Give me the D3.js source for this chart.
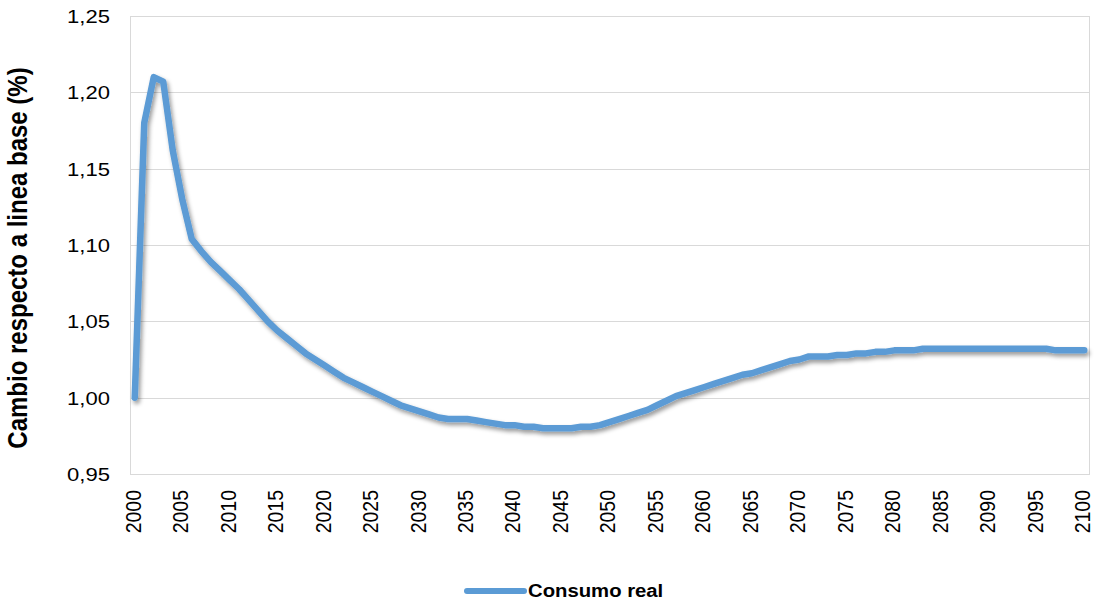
<!DOCTYPE html>
<html>
<head>
<meta charset="utf-8">
<script src="https://cdn.jsdelivr.net/npm/d3@7"></script>
<style>
  html, body { margin: 0; padding: 0; background: #fff; }
  svg { display: block; }
  text { font-family: "Liberation Sans", Arial, sans-serif; fill: #000; }
</style>
</head>
<body>
<svg id="chart" width="1098" height="603"></svg>
<script>
// Years on the category axis
const years = d3.range(2000, 2101);

// Real consumption relative to the baseline, one value per year 2000-2100
const consumoReal = [
  1.000, 1.180, 1.210, 1.207, 1.162, 1.130, 1.104, 1.096, 1.089, 1.083,
  1.077, 1.071, 1.064, 1.057, 1.050, 1.044, 1.039, 1.034, 1.029, 1.025,
  1.021, 1.017, 1.013, 1.010, 1.007, 1.004, 1.001, 0.998, 0.995, 0.993,
  0.991, 0.989, 0.987, 0.986, 0.986, 0.986, 0.985, 0.984, 0.983, 0.982,
  0.982, 0.981, 0.981, 0.980, 0.980, 0.980, 0.980, 0.981, 0.981, 0.982,
  0.984, 0.986, 0.988, 0.990, 0.992, 0.995, 0.998, 1.001, 1.003, 1.005,
  1.007, 1.009, 1.011, 1.013, 1.015, 1.016, 1.018, 1.020, 1.022, 1.024,
  1.025, 1.027, 1.027, 1.027, 1.028, 1.028, 1.029, 1.029, 1.030, 1.030,
  1.031, 1.031, 1.031, 1.032, 1.032, 1.032, 1.032, 1.032, 1.032, 1.032,
  1.032, 1.032, 1.032, 1.032, 1.032, 1.032, 1.032, 1.031, 1.031, 1.031,
  1.031
];

// Axis ticks
const yTicks = [0.95, 1.00, 1.05, 1.10, 1.15, 1.20, 1.25];
const xTickYears = years.filter(y => y % 5 === 0);

const seriesName = "Consumo real";
const yTitle = "Cambio respecto a linea base (%)";

const svg = d3.select("#chart");
const plot = { left: 130, right: 1089, top: 16, bottom: 474 };
const sx = 1.16; // horizontal stretch of the lettering

const x = d3.scalePoint().domain(years).range([plot.left, plot.right]).padding(0.5);
const y = d3.scaleLinear().domain([0.95, 1.25]).range([plot.bottom, plot.top]);

const fmt = v => d3.format(".2f")(v).replace(".", ",");

// Drop shadow under the series line
const defs = svg.append("defs");
const f = defs.append("filter").attr("id", "shadow")
  .attr("x", "-5%").attr("y", "-5%").attr("width", "110%").attr("height", "120%");
f.append("feDropShadow").attr("dx", 2).attr("dy", 3).attr("stdDeviation", 2.2)
  .attr("flood-color", "#000").attr("flood-opacity", 0.4);

// Horizontal gridlines
svg.append("g").selectAll("line").data(yTicks).join("line")
  .attr("x1", plot.left).attr("x2", plot.right)
  .attr("y1", d => Math.round(y(d)) + 0.5).attr("y2", d => Math.round(y(d)) + 0.5)
  .attr("stroke", "#d9d9d9").attr("stroke-width", 1);

// Plot frame
svg.append("rect")
  .attr("x", plot.left + 0.5).attr("y", plot.top + 0.5)
  .attr("width", plot.right - plot.left).attr("height", plot.bottom - plot.top)
  .attr("fill", "none").attr("stroke", "#d9d9d9").attr("stroke-width", 1);

// Y tick labels
const yAxis = d3.axisLeft(y).tickValues(yTicks).tickFormat(fmt).tickSize(0).tickPadding(0);
const gy = svg.append("g").attr("transform", `translate(110,0)`).call(yAxis);
gy.select(".domain").remove();
gy.selectAll("text")
  .attr("x", 0).attr("dy", "0.35em")
  .attr("font-size", 19).attr("font-family", "Liberation Sans, Arial, sans-serif")
  .attr("fill", "#000")
  .attr("transform", `scale(${sx},1)`);

// X tick labels (rotated)
const xAxis = d3.axisBottom(x).tickValues(xTickYears).tickSize(0).tickPadding(0);
const gx = svg.append("g").attr("transform", `translate(0,490)`).call(xAxis);
gx.select(".domain").remove();
gx.selectAll("text")
  .attr("y", 0).attr("dy", "0.24em")
  .attr("font-size", 19.5).attr("font-family", "Liberation Sans, Arial, sans-serif")
  .attr("fill", "#000")
  .attr("text-anchor", "end")
  .attr("transform", `scale(${sx},1) rotate(-90)`);

// Y axis title
svg.append("text")
  .attr("transform", `translate(17,258) scale(${sx},1) rotate(-90)`)
  .attr("text-anchor", "middle").attr("dy", "0.35em")
  .attr("font-size", 24).attr("font-weight", "bold")
  .text(yTitle);

// Series line
const line = d3.line().x((d, i) => x(years[i])).y(d => y(d));
svg.append("path")
  .datum(consumoReal)
  .attr("d", line)
  .attr("fill", "none")
  .attr("stroke", "#5b9bd5")
  .attr("stroke-width", 6.5)
  .attr("stroke-linejoin", "round")
  .attr("stroke-linecap", "round")
  .attr("filter", "url(#shadow)");

// Legend
const lg = svg.append("g").attr("transform", "translate(467,591)");
lg.append("line").attr("x1", 0).attr("x2", 57).attr("y1", 0).attr("y2", 0)
  .attr("stroke", "#5b9bd5").attr("stroke-width", 6).attr("stroke-linecap", "round");
lg.append("text")
  .attr("transform", `translate(61,0) scale(${sx},1)`)
  .attr("dy", "0.35em")
  .attr("font-size", 17.5).attr("font-weight", "bold")
  .text(seriesName);
</script>
</body>
</html>
